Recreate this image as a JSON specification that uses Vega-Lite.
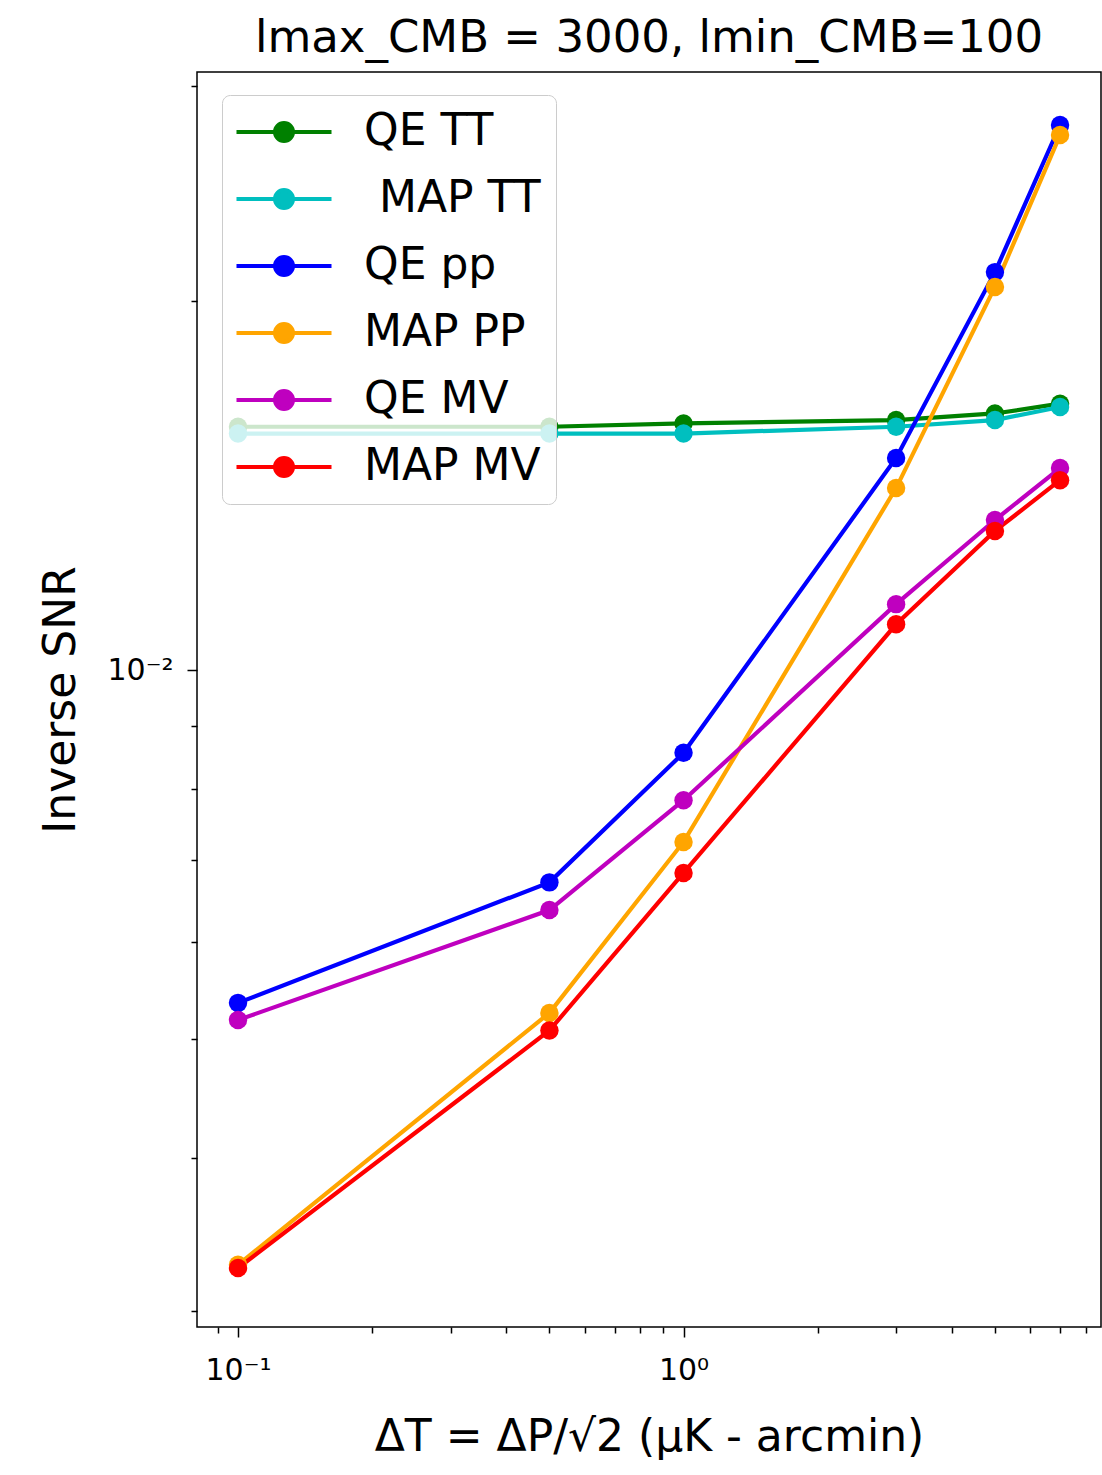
{
  "$schema": "https://vega.github.io/schema/vega-lite/v6.json",
  "width": 904,
  "height": 1255,
  "autosize": {"type": "none"},
  "padding": {"left": 197, "top": 72, "right": 1, "bottom": 148},
  "background": "white",
  "title": {"text": "lmax_CMB = 3000, lmin_CMB=100", "font": "DejaVu Sans", "fontSize": 45, "fontWeight": "normal", "color": "black", "offset": 11, "anchor": "middle"},
  "data": {"values": [
    {"series": "QE TT", "noise": 0.1, "snr_inv": 0.0158},
    {"series": "QE TT", "noise": 0.5, "snr_inv": 0.0158},
    {"series": "QE TT", "noise": 1, "snr_inv": 0.0159},
    {"series": "QE TT", "noise": 3, "snr_inv": 0.0160},
    {"series": "QE TT", "noise": 5, "snr_inv": 0.0162},
    {"series": "QE TT", "noise": 7, "snr_inv": 0.0165},
    {"series": " MAP TT", "noise": 0.1, "snr_inv": 0.0156},
    {"series": " MAP TT", "noise": 0.5, "snr_inv": 0.0156},
    {"series": " MAP TT", "noise": 1, "snr_inv": 0.0156},
    {"series": " MAP TT", "noise": 3, "snr_inv": 0.0158},
    {"series": " MAP TT", "noise": 5, "snr_inv": 0.0160},
    {"series": " MAP TT", "noise": 7, "snr_inv": 0.0164},
    {"series": "QE pp", "noise": 0.1, "snr_inv": 0.00535},
    {"series": "QE pp", "noise": 0.5, "snr_inv": 0.00671},
    {"series": "QE pp", "noise": 1, "snr_inv": 0.00856},
    {"series": "QE pp", "noise": 3, "snr_inv": 0.0149},
    {"series": "QE pp", "noise": 5, "snr_inv": 0.02113},
    {"series": "QE pp", "noise": 7, "snr_inv": 0.02786},
    {"series": "MAP PP", "noise": 0.1, "snr_inv": 0.00327},
    {"series": "MAP PP", "noise": 0.5, "snr_inv": 0.00525},
    {"series": "MAP PP", "noise": 1, "snr_inv": 0.00724},
    {"series": "MAP PP", "noise": 3, "snr_inv": 0.01408},
    {"series": "MAP PP", "noise": 5, "snr_inv": 0.02055},
    {"series": "MAP PP", "noise": 7, "snr_inv": 0.02734},
    {"series": "QE MV", "noise": 0.1, "snr_inv": 0.00518},
    {"series": "QE MV", "noise": 0.5, "snr_inv": 0.00637},
    {"series": "QE MV", "noise": 1, "snr_inv": 0.00783},
    {"series": "QE MV", "noise": 3, "snr_inv": 0.01132},
    {"series": "QE MV", "noise": 5, "snr_inv": 0.01326},
    {"series": "QE MV", "noise": 7, "snr_inv": 0.01462},
    {"series": "MAP MV", "noise": 0.1, "snr_inv": 0.00325},
    {"series": "MAP MV", "noise": 0.5, "snr_inv": 0.00508},
    {"series": "MAP MV", "noise": 1, "snr_inv": 0.00683},
    {"series": "MAP MV", "noise": 3, "snr_inv": 0.0109},
    {"series": "MAP MV", "noise": 5, "snr_inv": 0.01299},
    {"series": "MAP MV", "noise": 7, "snr_inv": 0.01429}
  ]},
  "mark": {"type": "line", "strokeWidth": 4.2, "point": {"filled": true, "size": 340, "opacity": 1}},
  "encoding": {
    "x": {
      "field": "noise", "type": "quantitative",
      "scale": {"type": "log", "domain": [0.0809, 8.65], "nice": false},
      "axis": {
        "title": "ΔT = ΔP/√2 (μK - arcmin)",
        "values": [0.09, 0.1, 0.2, 0.3, 0.4, 0.5, 0.6, 0.7, 0.8, 0.9, 1, 2, 3, 4, 5, 6, 7, 8],
        "labelExpr": "datum.value == 0.1 ? '10⁻¹' : (datum.value == 1 ? '10⁰' : '')",
        "tickSize": {"condition": {"test": "datum.value == 0.1 || datum.value == 1", "value": 10}, "value": 6},
        "labelPadding": 18,
        "titlePadding": 30
      }
    },
    "y": {
      "field": "snr_inv", "type": "quantitative",
      "scale": {"type": "log", "domain": [0.002909, 0.03078], "nice": false, "zero": false},
      "axis": {
        "title": "Inverse SNR",
        "values": [0.003, 0.004, 0.005, 0.006, 0.007, 0.008, 0.009, 0.01, 0.02, 0.03],
        "labelExpr": "datum.value == 0.01 ? '10⁻²' : ''",
        "tickSize": {"condition": {"test": "datum.value == 0.01", "value": 10}, "value": 6},
        "labelPadding": 14,
        "titlePadding": 23
      }
    },
    "color": {
      "field": "series", "type": "nominal",
      "scale": {
        "domain": ["QE TT", " MAP TT", "QE pp", "MAP PP", "QE MV", "MAP MV"],
        "range": ["#008000", "#00bfbf", "#0000ff", "#ffa500", "#bf00bf", "#ff0000"]
      },
      "legend": {
        "title": null,
        "orient": "none",
        "legendX": 25,
        "legendY": 23,
        "symbolType": "M-3,0H3M-0.57,0A0.57,0.57 0 1,1 0.57,0A0.57,0.57 0 1,1 -0.57,0Z",
        "symbolSize": 1003,
        "symbolStrokeWidth": 4,
        "symbolOffset": 25,
        "labelOffset": 58,
        "labelLimit": 500,
        "padding": 15,
        "rowPadding": 23,
        "labelFont": "DejaVu Sans",
        "labelFontSize": 44,
        "labelColor": "black",
        "fillColor": "rgba(255,255,255,0.8)",
        "strokeColor": "#cccccc",
        "cornerRadius": 8,
        "encode": {
          "symbols": {"update": {"fill": {"scale": "color", "field": "value"}, "stroke": {"scale": "color", "field": "value"}, "opacity": {"value": 1}}},
          "labels": {"update": {"dx": {"signal": "datum.index == 1 ? 15 : 0"}}}
        }
      }
    }
  },
  "config": {
    "view": {"stroke": "black", "strokeWidth": 1.5},
    "axis": {
      "domain": false,
      "grid": false,
      "tickColor": "black",
      "tickWidth": 1.5,
      "labelFont": "DejaVu Sans",
      "labelFontSize": 30,
      "labelColor": "black",
      "titleFont": "DejaVu Sans",
      "titleFontSize": 44,
      "titleFontWeight": "normal",
      "titleColor": "black"
    }
  }
}
